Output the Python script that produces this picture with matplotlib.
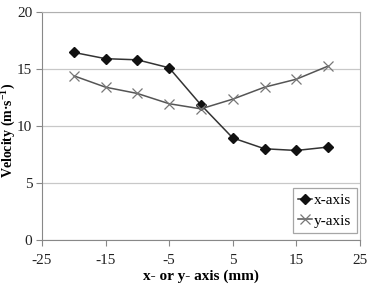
import matplotlib
matplotlib.use("Agg")
import matplotlib.pyplot as plt

pos = [-20, -15, -10, -5, 0, 5, 10, 15, 20]
vx = [16.45, 15.9, 15.8, 15.1, 11.85, 8.95, 8.0, 7.85, 8.15]
vy = [14.4, 13.4, 12.85, 11.95, 11.5, 12.35, 13.4, 14.1, 15.25]

plt.rcParams['font.family'] = ['Liberation Serif', 'DejaVu Serif']
plt.rcParams['axes.unicode_minus'] = False
plt.rcParams['mathtext.fontset'] = 'custom'
plt.rcParams['mathtext.rm'] = 'Liberation Serif:bold'
plt.rcParams['mathtext.it'] = 'Liberation Serif:bold'
plt.rcParams['mathtext.bf'] = 'Liberation Serif:bold'

fig = plt.figure(figsize=(3.68, 2.84), dpi=100)
ax = fig.add_axes([0.114, 0.155, 0.864, 0.803])

ax.plot(pos, vx, color='#333333', lw=1.1, marker='D', ms=5.5,
        mfc='#111111', mec='#111111', label='x-axis')
ax.plot(pos, vy, color='#555555', lw=1.1, marker='x', ms=7,
        mew=0.9, mec='#777777', label='y-axis')

ax.set_xlim(-25, 25)
ax.set_ylim(0, 20)
ax.set_xticks(range(-25, 26, 10))
ax.set_yticks(range(0, 21, 5))
ax.yaxis.grid(True, color='#c8c8c8', lw=0.9)
ax.set_axisbelow(True)
for s in ax.spines.values():
    s.set_color('#b0b0b0')
ax.spines['left'].set_color('#888888')
ax.spines['bottom'].set_color('#888888')
ax.tick_params(direction='out', length=4, color='#888888', labelsize=11,
               labelcolor='#222222')
ax.tick_params(axis='x', pad=6)
ax.tick_params(axis='y', pad=3)

ax.set_xlabel('x- or y- axis (mm)', fontsize=11, fontweight='bold')
ax.xaxis.set_label_coords(0.5, -0.13)

# y label placed by hand, shrunk so it spans about 95 px like the original
yl = fig.text(9 / 368, 1 - 130 / 284, 'Velocity (m·s$^{-1}$)', rotation=90,
              ha='center', va='center', fontsize=11, fontweight='bold')
r = fig.canvas.get_renderer()
h = yl.get_window_extent(r).height
if h > 97:
    yl.set_fontsize(11 * 95 / h)

leg = ax.legend(loc='lower right', fontsize=11, fancybox=False, frameon=True,
                edgecolor='#909090', handlelength=0.9, handletextpad=0.15,
                borderpad=0.35, labelspacing=0.45, borderaxespad=0,
                bbox_to_anchor=(0.99, 0.03))
leg.get_frame().set_linewidth(0.9)

fig.savefig('out.png', dpi=100)
